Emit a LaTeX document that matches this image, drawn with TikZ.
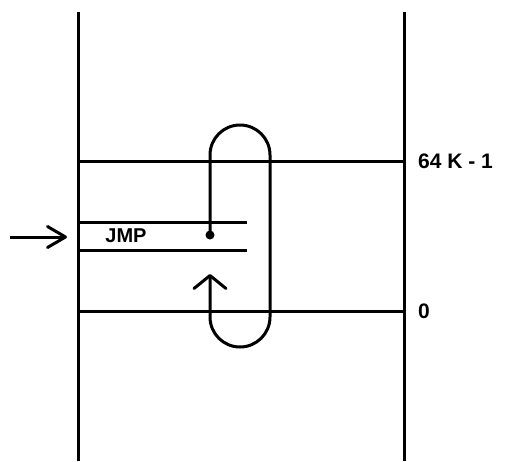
\documentclass[tikz,border=0pt]{standalone}
\usepackage{fontspec}
\setmainfont{Liberation Sans}
\usetikzlibrary{arrows.meta}
\tikzset{
  memline/.style={line width=3pt, draw=black},
  memlabel/.style={font=\bfseries\fontsize{21}{24}\selectfont, anchor=west, inner sep=0pt},
  jmplabel/.style={font=\bfseries\fontsize{20}{23}\selectfont, inner sep=0pt},
  jmparrow/.style={memline, -{Straight Barb[length=13pt, width=32pt, round]}},
  inarrow/.style={memline, -{Straight Barb[length=18pt, width=21pt, round]}}
}
\begin{document}
\begin{tikzpicture}[x=1pt, y=-1pt]
  \useasboundingbox (0,0) rectangle (508,461);
  % memory bounds
  \coordinate (lt) at (78,12);
  \coordinate (lb) at (78,461);
  \coordinate (rt) at (404,12);
  \coordinate (rb) at (404,461);
  \draw[memline] (lt) -- (lb);
  \draw[memline] (rt) -- (rb);
  % segment limits
  \coordinate (segtopl) at (78,161);
  \coordinate (segtopr) at (404,161);
  \coordinate (segbotl) at (78,311);
  \coordinate (segbotr) at (404,311);
  \draw[memline] (segtopl) -- (segtopr);
  \draw[memline] (segbotl) -- (segbotr);
  \node[memlabel] (top) at (418,161) {64 K - 1};
  \node[memlabel] (bot) at (418,311) {0};
  % instruction
  \coordinate (insl1) at (78,222);
  \coordinate (insr1) at (247,222);
  \coordinate (insl2) at (78,250);
  \coordinate (insr2) at (247,250);
  \draw[memline] (insl1) -- (insr1);
  \draw[memline] (insl2) -- (insr2);
  \node[jmplabel] (jmp) at (126,236) {JMP};
  \coordinate (entry) at (10,237);
  \coordinate (entryend) at (67,237);
  \draw[inarrow] (entry) -- (entryend);
  % wrap around
  \fill (210,235) circle (4.5pt) coordinate (dot);
  \draw[jmparrow] (dot) -- (210,155) arc[start angle=180, end angle=360, radius=30]
    -- (270,317) arc[start angle=0, end angle=180, radius=30] -- (210,274);
\end{tikzpicture}
\end{document}
